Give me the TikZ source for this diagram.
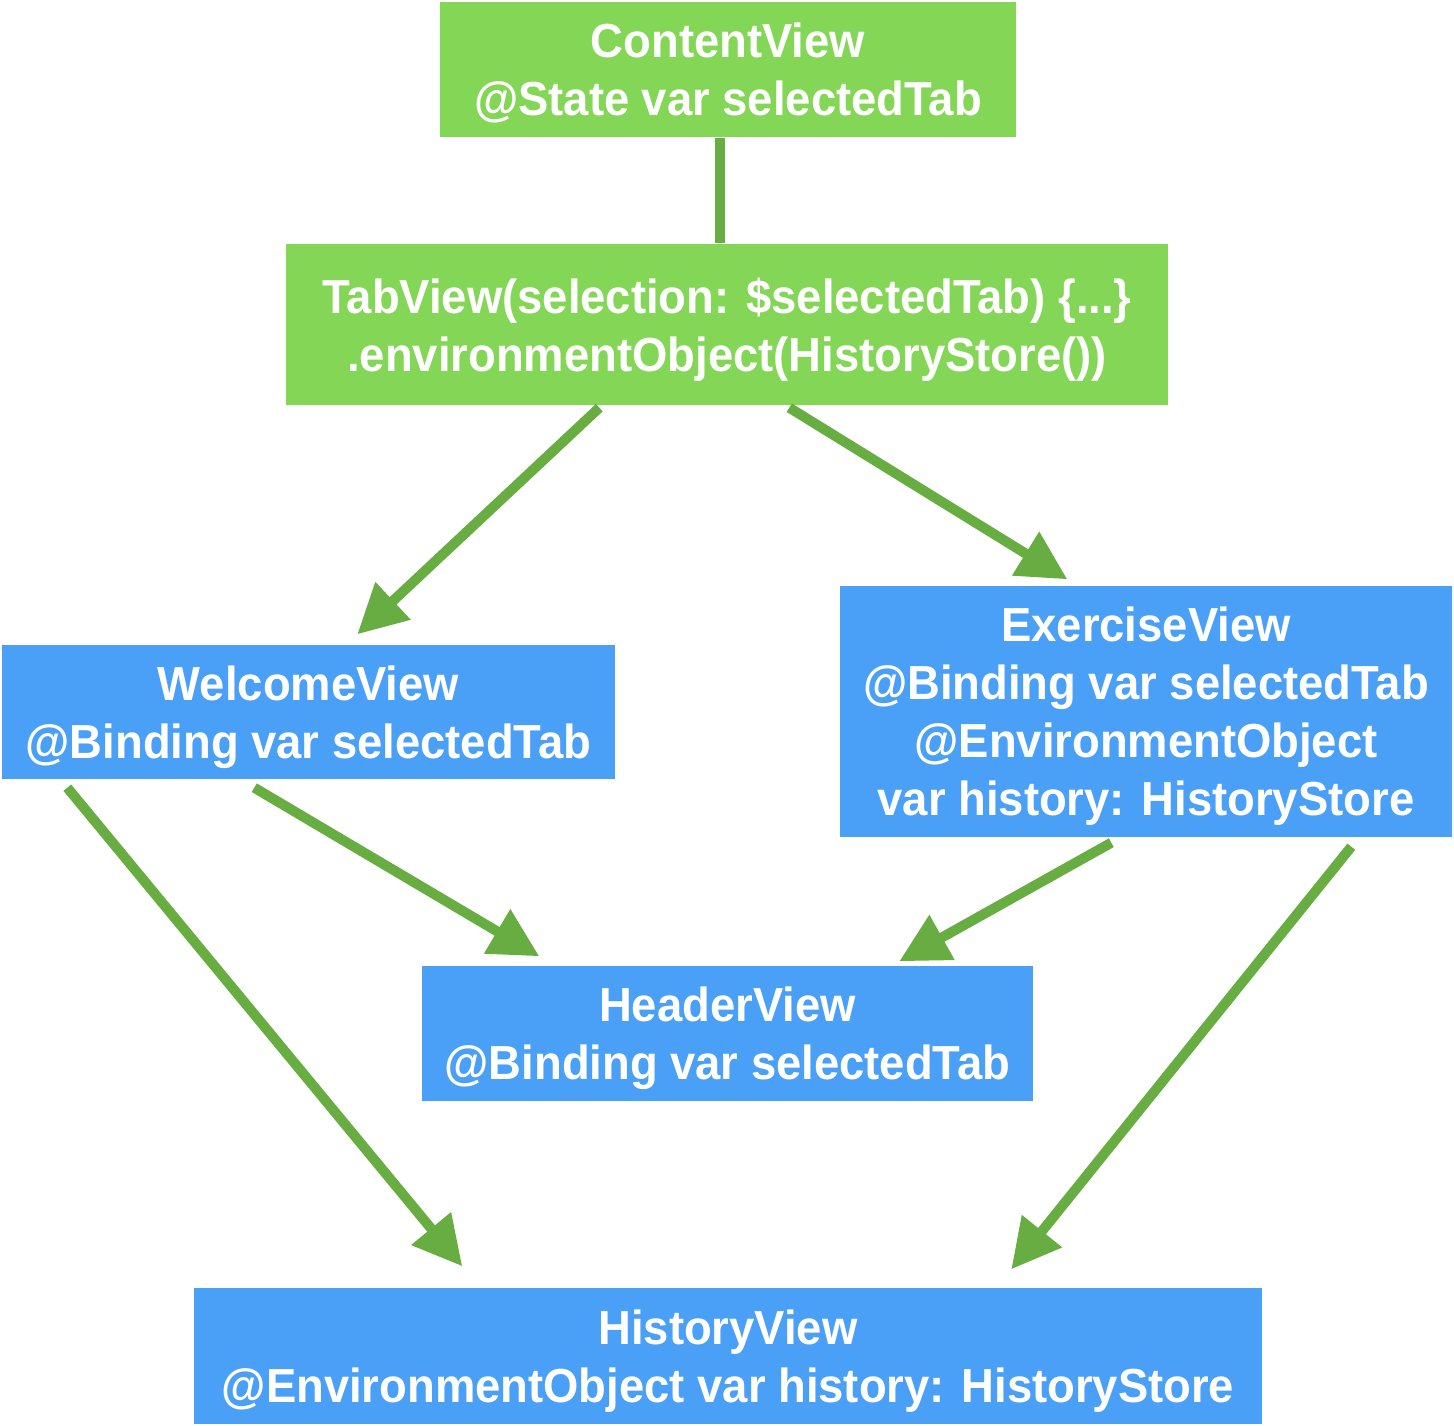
\documentclass[tikz,border=0pt]{standalone}
\usepackage{fontspec}
\setmainfont{Liberation Sans}[FakeStretch=0.95]
\usetikzlibrary{arrows.meta}
\definecolor{leafgreen}{HTML}{84D656}
\definecolor{skyblue}{HTML}{4A9FF6}
\definecolor{linkgreen}{HTML}{67AD41}

\begin{document}
\begin{tikzpicture}[>={Triangle[length=0.49cm,width=0.49cm]},
    box/.style={fill=#1, text=white, align=center, inner sep=0pt,
        font=\bfseries\fontsize{13.6pt}{16.5pt}\selectfont, text depth=0pt},
    link/.style={draw=linkgreen, line width=0.10cm}]
        % Khung
        \useasboundingbox (0,0) rectangle (14.54,-14.26);

        % Các khung màu xanh lá
        \node[box=leafgreen, minimum width=5.76cm, minimum height=1.35cm] (content) at (7.28,-0.695) {ContentView\\@State var selectedTab};
        \node[box=leafgreen, minimum width=8.82cm, minimum height=1.61cm] (tab) at (7.27,-3.245) {TabView(selection: \$selectedTab) \{...\}\\.environmentObject(HistoryStore())};

        % Các khung màu xanh dương
        \node[box=skyblue, minimum width=6.13cm, minimum height=1.34cm] (welcome) at (3.085,-7.12) {WelcomeView\\@Binding var selectedTab};
        \node[box=skyblue, minimum width=6.12cm, minimum height=2.51cm] (exercise) at (11.46,-7.115) {ExerciseView\\@Binding var selectedTab\\@EnvironmentObject\\var history: HistoryStore};
        \node[box=skyblue, minimum width=6.11cm, minimum height=1.35cm] (header) at (7.275,-10.335) {HeaderView\\@Binding var selectedTab};
        \node[box=skyblue, minimum width=10.68cm, minimum height=1.36cm] (history) at (7.28,-13.56) {HistoryView\\@EnvironmentObject var history: HistoryStore};

        % Đường nối
        \draw[link] ([xshift=-0.08cm]content.south) -- ([xshift=-0.08cm]content.south |- tab.north);
        \draw[link, ->] ([shift={(3.14,-0.02)}]tab.south west) -- ([shift={(3.56,0.10)}]welcome.north west);
        \draw[link, ->] ([shift={(5.04,-0.02)}]tab.south west) -- ([shift={(2.28,0.06)}]exercise.north west);
        \draw[link, ->] ([shift={(2.53,-0.08)}]welcome.south west) -- ([shift={(1.18,0.09)}]header.north west);
        \draw[link, ->] ([shift={(0.66,-0.08)}]welcome.south west) -- ([shift={(2.69,0.21)}]history.north west);
        \draw[link, ->] ([shift={(2.72,-0.05)}]exercise.south west) -- ([shift={(4.78,0.04)}]header.north west);
        \draw[link, ->] ([shift={(5.12,-0.09)}]exercise.south west) -- ([shift={(8.18,0.18)}]history.north west);
    \end{tikzpicture}
\end{document}
